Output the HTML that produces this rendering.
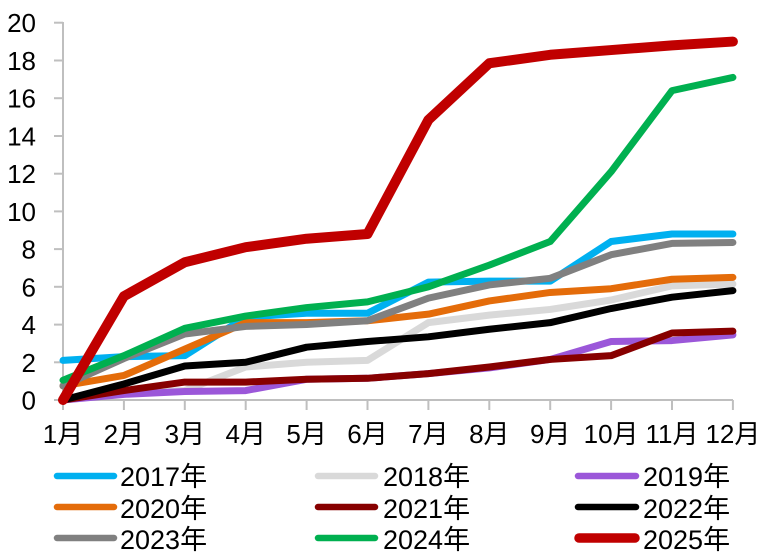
<!DOCTYPE html>
<html><head><meta charset="utf-8"><style>
html,body{margin:0;padding:0;background:#fff;}
svg{display:block;}
text{font-family:"Liberation Sans","Noto Sans CJK SC",sans-serif;fill:#000;}
</style></head><body>
<svg width="772" height="560" viewBox="0 0 772 560" xmlns="http://www.w3.org/2000/svg">
<g stroke="#bfbfbf" stroke-width="2" fill="none">
<line x1="63" y1="22" x2="63" y2="401"/>
<line x1="62" y1="400" x2="733" y2="400"/>
<line x1="54" y1="22.7" x2="63" y2="22.7"/>
<line x1="54" y1="60.5" x2="63" y2="60.5"/>
<line x1="54" y1="98.2" x2="63" y2="98.2"/>
<line x1="54" y1="136" x2="63" y2="136"/>
<line x1="54" y1="173.7" x2="63" y2="173.7"/>
<line x1="54" y1="211.4" x2="63" y2="211.4"/>
<line x1="54" y1="249.1" x2="63" y2="249.1"/>
<line x1="54" y1="286.8" x2="63" y2="286.8"/>
<line x1="54" y1="324.6" x2="63" y2="324.6"/>
<line x1="54" y1="362.3" x2="63" y2="362.3"/>
<line x1="54" y1="400" x2="63" y2="400"/>
<line x1="63" y1="400" x2="63" y2="410"/>
<line x1="123.9" y1="400" x2="123.9" y2="410"/>
<line x1="184.8" y1="400" x2="184.8" y2="410"/>
<line x1="245.7" y1="400" x2="245.7" y2="410"/>
<line x1="306.6" y1="400" x2="306.6" y2="410"/>
<line x1="367.5" y1="400" x2="367.5" y2="410"/>
<line x1="428.4" y1="400" x2="428.4" y2="410"/>
<line x1="489.3" y1="400" x2="489.3" y2="410"/>
<line x1="550.2" y1="400" x2="550.2" y2="410"/>
<line x1="611.1" y1="400" x2="611.1" y2="410"/>
<line x1="672" y1="400" x2="672" y2="410"/>
<line x1="732.9" y1="400" x2="732.9" y2="410"/>
</g>
<g font-size="26" text-anchor="end">
<text x="36" y="32">20</text>
<text x="36" y="70">18</text>
<text x="36" y="107.5">16</text>
<text x="36" y="145.5">14</text>
<text x="36" y="183">12</text>
<text x="36" y="221">10</text>
<text x="36" y="258.5">8</text>
<text x="36" y="296.5">6</text>
<text x="36" y="334">4</text>
<text x="36" y="372">2</text>
<text x="36" y="409.5">0</text>
</g>
<g font-size="26" text-anchor="middle">
<text x="63" y="443">1月</text>
<text x="123.9" y="443">2月</text>
<text x="184.8" y="443">3月</text>
<text x="245.7" y="443">4月</text>
<text x="306.6" y="443">5月</text>
<text x="367.5" y="443">6月</text>
<text x="428.4" y="443">7月</text>
<text x="489.3" y="443">8月</text>
<text x="550.2" y="443">9月</text>
<text x="611.1" y="443">10月</text>
<text x="672" y="443">11月</text>
<text x="732.9" y="443">12月</text>
</g>
<g transform="translate(63,400) scale(60.9,-18.865)" fill="none" stroke-linejoin="round" stroke-linecap="round">
<polyline vector-effect="non-scaling-stroke" stroke="#00B0F0" stroke-width="7" points="0,2.1 1,2.3 2,2.35 3,4.4 4,4.6 5,4.6 6,6.25 7,6.3 8,6.3 9,8.4 10,8.8 11,8.8"/>
<polyline vector-effect="non-scaling-stroke" stroke="#D9D9D9" stroke-width="7" points="0,0 1,0.4 2,0.5 3,1.75 4,2.0 5,2.1 6,4.1 7,4.5 8,4.8 9,5.3 10,6.05 11,6.15"/>
<polyline vector-effect="non-scaling-stroke" stroke="#9B57D9" stroke-width="7" points="0,0 1,0.3 2,0.45 3,0.5 4,1.1 5,1.15 6,1.4 7,1.7 8,2.15 9,3.1 10,3.15 11,3.45"/>
<polyline vector-effect="non-scaling-stroke" stroke="#E46C0A" stroke-width="7" points="0,0.75 1,1.3 2,2.7 3,4.1 4,4.1 5,4.2 6,4.55 7,5.25 8,5.7 9,5.9 10,6.4 11,6.5"/>
<polyline vector-effect="non-scaling-stroke" stroke="#870000" stroke-width="7" points="0,0 1,0.5 2,0.95 3,0.95 4,1.1 5,1.15 6,1.4 7,1.75 8,2.15 9,2.35 10,3.55 11,3.65"/>
<polyline vector-effect="non-scaling-stroke" stroke="#000000" stroke-width="7" points="0,0 1,0.85 2,1.8 3,2.0 4,2.8 5,3.1 6,3.35 7,3.75 8,4.1 9,4.85 10,5.45 11,5.8"/>
<polyline vector-effect="non-scaling-stroke" stroke="#808080" stroke-width="7" points="0,0.75 1,2.2 2,3.5 3,3.9 4,4.0 5,4.2 6,5.4 7,6.1 8,6.45 9,7.7 10,8.3 11,8.35"/>
<polyline vector-effect="non-scaling-stroke" stroke="#00B050" stroke-width="7" points="0,1.05 1,2.35 2,3.8 3,4.45 4,4.9 5,5.2 6,6.0 7,7.15 8,8.4 9,12.1 10,16.4 11,17.1"/>
<polyline vector-effect="non-scaling-stroke" stroke="#C00000" stroke-width="10" points="0,0 1,5.5 2,7.3 3,8.1 4,8.55 5,8.8 6,14.85 7,17.85 8,18.3 9,18.55 10,18.8 11,19.0"/>
</g>
<g stroke-linecap="round">
<line x1="57" y1="476" x2="114" y2="476" stroke="#00B0F0" stroke-width="6.5"/>
<line x1="318" y1="476" x2="375" y2="476" stroke="#D9D9D9" stroke-width="6.5"/>
<line x1="578" y1="476" x2="636" y2="476" stroke="#9B57D9" stroke-width="6.5"/>
<line x1="57" y1="507" x2="114" y2="507" stroke="#E46C0A" stroke-width="6.5"/>
<line x1="318" y1="507" x2="375" y2="507" stroke="#870000" stroke-width="6.5"/>
<line x1="578" y1="507" x2="636" y2="507" stroke="#000000" stroke-width="6.5"/>
<line x1="57" y1="538" x2="114" y2="538" stroke="#808080" stroke-width="6.5"/>
<line x1="318" y1="538" x2="375" y2="538" stroke="#00B050" stroke-width="6.5"/>
<line x1="579" y1="538" x2="635" y2="538" stroke="#C00000" stroke-width="9.5"/>
</g>
<g font-size="27">
<text x="120" y="486">2017年</text>
<text x="383" y="486">2018年</text>
<text x="643" y="486">2019年</text>
<text x="120" y="518">2020年</text>
<text x="383" y="518">2021年</text>
<text x="643" y="518">2022年</text>
<text x="120" y="549">2023年</text>
<text x="383" y="549">2024年</text>
<text x="643" y="549">2025年</text>
</g>
</svg>
</body></html>
